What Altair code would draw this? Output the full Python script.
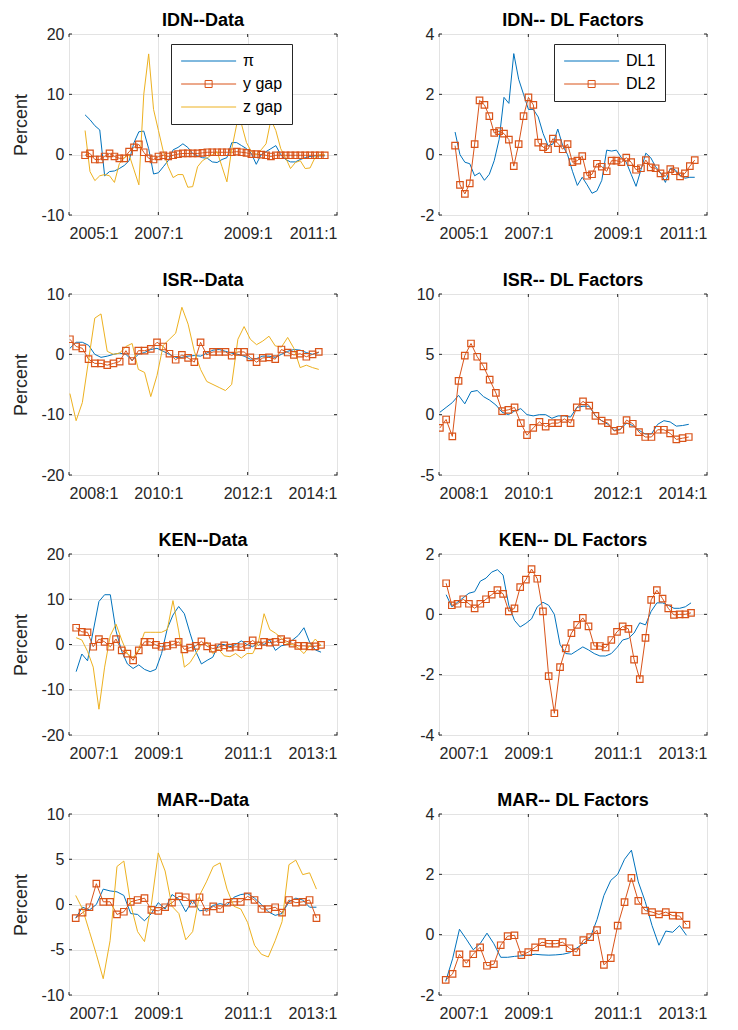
import altair as alt
import pandas as pd

BLUE, ORANGE, YELLOW = "#0072BD", "#D95319", "#EDB120"

# ---------------- IDN ----------------
idn_start, idn_step = 2005.36, 0.1095
idn_pi = [6.6, 5.8, 4.8, 4.1, -3.5, -2.8, -2.7, -2.3, -1.8, -1.0,
          2.0, 3.8, 3.9, 1.0, -3.2, -3.0, -2.0, -1.0, 0.8, 1.2,
          1.8, 1.2, 0.2, -0.2, -0.5, -0.6, -1.2, -1.3, -0.8, -0.5,
          2.0, 2.0, 1.5, 1.0, 0.2, -1.6, 0.0, 0.5, 1.0, 1.5,
          0.0, -0.8, -1.2, -1.2, -0.8, -0.5, -0.3, -0.2, -0.2, -0.2]
idn_ygap = [-0.1, 0.2, -0.8, -0.8, -0.3, 0.2, -0.3, -0.6, -0.6, 0.5,
            1.2, 1.7, 0.4, -0.6, -0.8, -0.3, -0.1, -0.3, -0.1, 0.1,
            0.2, 0.2, 0.2, 0.2, 0.3, 0.4, 0.4, 0.4, 0.4, 0.4,
            0.4, 0.5, 0.4, 0.3, 0.1, 0.1, 0.0, -0.1, -0.3, -0.1,
            -0.1, -0.1, -0.1, -0.1, -0.1, -0.1, -0.1, -0.1, -0.1, -0.1]
idn_zgap = [4.0, -2.8, -4.3, -3.5, -3.3, -3.5, -4.6, -1.5, -0.5, 0.0,
            -2.5, -5.0, 10.0, 16.7, 7.5, 4.0, 0.5, -2.0, -3.8, -3.3,
            -3.3, -5.4, -5.3, -2.0, -1.0, -0.5, 0.0, 0.5, -2.0, -4.5,
            1.0, 5.0, 5.0, 2.0, 0.5, 0.0, 0.8, 1.8, 5.8, 4.0,
            1.0, -0.5, -2.3, -1.3, -1.0, -2.3, -2.2, -0.5, 0.0, 0.0]
idn_dl1 = [0.75, 0.0, -0.25, -0.3, -0.7, -0.6, -0.85, -0.65, -0.2, 0.5,
           1.9, 1.7, 3.35, 2.5, 2.0, 1.5, 1.5, 1.25, 0.7, 0.3,
           0.35, 0.85, 0.3, 0.0, -0.55, -1.02, -0.75, -1.0, -1.28, -1.2,
           -0.85, 0.15, 0.12, 0.15, -0.1, -0.25, -0.65, -1.05, -0.5, 0.05,
           -0.1, -0.4, -0.6, -0.92, -0.45, -0.5, -0.68, -0.78, -0.75, -0.75]
idn_dl2 = [0.3, -1.0, -1.3, -0.95, 0.35, 1.8, 1.65, 1.28, 0.72, 0.78,
           0.7, 0.5, -0.38, 0.35, 1.28, 1.9, 1.65, 0.4, 0.25, 0.18,
           0.53, 0.38, 0.18, 0.35, -0.25, -0.2, -0.05, -0.7, -0.65, -0.3,
           -0.4, -0.55, -0.2, -0.2, -0.25, -0.1, -0.25, -0.5, -0.45, -0.18,
           -0.42, -0.45, -0.62, -0.72, -0.48, -0.55, -0.72, -0.62, -0.38, -0.18]

# ---------------- ISR ----------------
isr_start, isr_step = 2008.02, 0.1393
isr_pi = [1.0, 2.0, 2.0, 1.5, 0.0, -0.5, -0.3, 0.0, 0.2, 0.0,
          -1.0, 0.0, 0.3, 0.8, 1.0, 0.5, 0.0, -0.5, -0.5, -0.3,
          -0.2, -0.3, 0.2, 0.7, 0.8, 0.5, 0.2, 0.0, -0.3, -0.8,
          -0.7, -0.3, -0.3, -0.5, 0.0, 0.5, 0.8, 0.7, 0.3, 0.0, 0.3]
isr_ygap = [2.5, 1.3, 1.0, -0.8, -1.5, -1.5, -1.8, -1.5, -1.2, 0.6,
            -1.1, 0.6, 0.6, 0.9, 2.0, 1.3, 0.1, -0.9, -0.1, -0.6,
            -1.3, 2.0, -0.1, 0.4, 0.4, 0.4, -0.2, 0.4, 0.4, -0.5,
            -1.3, -0.6, -0.5, -0.8, 0.8, 0.3, -0.1, 0.1, -0.4, 0.0, 0.4]
isr_zgap = [-6.5, -11.0, -8.0, -1.0, 6.0, 6.7, 0.5, 0.0, 0.2, 1.3,
            1.8, -2.5, -3.0, -7.0, -3.5, 1.5, 2.5, 3.5, 7.8, 5.0,
            0.5, -2.5, -4.5, -5.0, -5.5, -6.0, -5.0, 2.5, 4.6, 2.5,
            1.6, 2.2, 3.0, 1.4, 1.2, 2.8, 1.0, -2.2, -1.8, -2.2, -2.5]
isr_dl1 = [0.2, 0.6, 1.0, 1.6, 0.9, 1.9, 2.0, 1.5, 1.2, 0.8,
           0.2, 0.0, 0.3, 0.5, 0.0, -0.1, 0.0, 0.0, -0.3, -0.1,
           -0.1, -0.2, 0.6, 0.7, 0.7, -0.1, -0.5, -0.8, -1.3, -1.2,
           -0.7, -0.9, -1.3, -1.6, -1.6, -0.8, -0.5, -0.6, -0.95, -0.9, -0.8]
isr_dl2 = [-1.1, -0.4, -1.8, 2.8, 4.9, 5.9, 4.8, 4.0, 2.9, 1.8,
           0.3, 0.4, 0.6, -0.7, -1.7, -1.1, -0.6, -1.0, -0.7, -0.7,
           -0.35, -0.7, 0.6, 1.1, 0.75, -0.1, -0.5, -0.7, -1.35, -1.25,
           -0.45, -0.75, -1.45, -1.85, -1.85, -1.25, -1.25, -1.55, -2.05, -1.95, -1.85]

# ---------------- KEN ----------------
ken_start, ken_step = 2007.16, 0.1275
ken_pi = [-6.0, -2.1, -3.6, 3.0, 9.5, 11.0, 11.0, 3.0, -1.5, -4.3,
          -5.3, -4.5, -5.5, -6.0, -5.5, -2.0, 3.5, 6.5, 8.4, 6.8,
          2.5, -1.5, -4.3, -3.5, -2.8, 0.0, 0.0, -0.5, 0.0, 0.8,
          0.0, -0.5, 0.5, 0.0, 1.0, -1.3, -0.3, 0.0, 1.0, 2.0,
          3.7, 0.5, -1.2, -1.7]
ken_ygap = [3.7, 2.8, 2.7, -0.5, 1.2, 0.6, -0.5, 1.2, -1.3, -2.0,
            -3.5, -1.3, 0.6, 0.6, -0.1, -0.5, -0.3, 0.0, 0.6, -1.1,
            -0.7, -0.3, 0.7, -0.4, -0.9, -0.6, -0.2, -0.7, -0.5, -0.6,
            -0.1, 0.9, -0.2, 0.6, 0.4, 0.6, 1.2, 0.7, 0.2, -0.3,
            -0.3, -0.4, -0.4, -0.1]
ken_zgap = [1.5, 1.0, -1.5, -5.0, -14.3, -5.0, 2.0, 4.5, 1.0, -2.0,
            -3.0, -1.0, 2.7, 2.7, 2.7, 2.7, 3.3, 9.7, 3.0, -5.0,
            -4.0, -2.0, 0.0, 0.5, -2.0, -1.0, -2.5, -2.7, -2.0, -3.0,
            -2.0, -2.0, 0.5, 6.8, 3.3, 2.5, 1.5, 0.2, 0.0, -0.8,
            -2.0, -0.3, 1.2, -0.3]
ken_dl1 = [0.65, 0.25, 0.4, 0.55, 0.7, 0.75, 1.1, 1.2, 1.4, 1.48,
           1.3, 0.3, -0.2, -0.42, -0.3, -0.15, 0.25, 0.4, 0.3, 0.0,
           -1.0, -1.3, -1.32, -1.2, -1.08, -1.18, -1.3, -1.38, -1.38, -1.3,
           -1.1, -0.85, -0.8, -0.62, -0.28, -0.35, 0.1, 0.38, 0.38, 0.3,
           0.2, 0.2, 0.25, 0.38]
ken_dl2 = [1.03, 0.3, 0.35, 0.5, 0.35, 0.2, 0.35, 0.5, 0.65, 0.8,
           0.68, 0.1, 0.2, 0.9, 1.15, 1.5, 1.18, 0.1, -2.05, -3.28,
           -1.75, -1.13, -0.62, -0.35, -0.12, -0.4, -1.05, -1.05, -1.1, -0.85,
           -0.58, -0.4, -0.48, -1.5, -2.15, -0.78, 0.48, 0.8, 0.52, 0.2,
           -0.02, 0.0, 0.0, 0.05]

# ---------------- MAR ----------------
mar_start, mar_step = 2007.15, 0.154
mar_pi = [-1.5, -0.3, -0.6, 0.0, 1.7, 1.5, 1.4, 1.0, -1.0, -1.1,
          -1.8, -1.0, 0.2, -0.5, 1.1, 0.6, -0.8, 0.5, -0.7, -0.6,
          -0.1, 0.1, -0.1, 0.8, 1.1, 1.2, 0.7, 0.0, -0.8, -1.2,
          -1.0, 0.3, 0.7, 0.5, -0.3, -0.3]
mar_ygap = [-1.5, -0.9, -0.3, 2.3, 0.3, 0.3, -1.1, -0.8, 0.3, 0.5,
            0.7, -0.6, -0.7, -0.3, 0.2, 0.9, 0.8, 0.1, 0.8, -0.8,
            -0.2, -0.5, 0.2, 0.3, 0.3, 0.9, 0.5, -0.5, -0.5, -0.3,
            -0.9, 0.5, 0.2, 0.3, 0.5, -1.5]
mar_zgap = [1.0, -0.5, -3.0, -5.5, -8.2, -4.0, 4.2, 4.8, 0.0, -3.0,
            -4.1, 0.0, 5.7, 3.7, -0.2, -1.0, -3.9, -3.0, 1.0, 2.5,
            4.2, 4.6, 1.7, -0.2, -0.5, -2.0, -4.5, -5.5, -5.8, -4.0,
            -1.9, 4.4, 4.9, 3.3, 3.5, 1.7]
mar_dl1 = [-1.55, -0.8, 0.18, -0.15, -0.5, -0.3, 0.05, -0.3, -0.75, -0.75,
           -0.72, -0.7, -0.68, -0.65, -0.67, -0.68, -0.67, -0.65, -0.6, -0.45,
           -0.3, -0.1, 0.5, 1.3, 1.8, 2.0, 2.5, 2.8, 1.75, 1.1,
           0.3, -0.35, 0.12, 0.08, 0.3, -0.02]
mar_dl2 = [-1.5, -1.3, -0.65, -0.95, -0.65, -0.42, -1.03, -0.98, -0.35, -0.05,
           -0.02, -0.68, -0.58, -0.42, -0.25, -0.3, -0.3, -0.25, -0.45, -0.58,
           -0.18, -0.08, 0.15, -1.0, -0.78, 0.3, 1.08, 1.88, 1.12, 0.8,
           0.75, 0.67, 0.75, 0.63, 0.62, 0.33]

data_names = ["π", "y gap", "z gap"]
dl_names = ["DL1", "DL2"]
data_colors = [BLUE, ORANGE, YELLOW]
dl_colors = [BLUE, ORANGE]

LINE_PATH = "M-1,0H7"
SQ_PATH = "M-1,0H7M2.49,-0.51H3.51V0.51H2.49Z"

W, H = 268, 181
TICK = 3
FONT = "Liberation Sans"
TXT = "#262626"


def panel(start, step, series, names, colors, ydom, yticks, x0, title,
          ytitle=None, legend_xy=None):
    rows = []
    for name, vals in zip(names, series):
        for i, v in enumerate(vals):
            rows.append({"t": start + i * step, "v": v, "s": name, "o": i})
    df = pd.DataFrame(rows)
    xticks = [x0, x0 + 2, x0 + 4, x0 + 6]
    base = alt.Chart(df)
    xaxis = alt.Axis(values=xticks,
                     labelExpr="datum.value + ':1'", title=None,
                     grid=True, gridColor="#e3e3e3", domain=False, ticks=False,
                     labelFontSize=16, labelColor=TXT, labelPadding=10,
                     labelFont=FONT)
    yaxis_kw = dict(values=yticks, grid=True, gridColor="#e3e3e3", domain=False,
                    ticks=False, labelFontSize=16, labelColor=TXT, labelPadding=5,
                    labelFont=FONT,
                    labelExpr="datum.value < 0 ? '-' + abs(datum.value) : '' + datum.value")
    if ytitle:
        yaxis = alt.Axis(title=ytitle, titleFontSize=18, titleFontWeight="normal",
                         titleColor=TXT, titleFont=FONT, titlePadding=10, **yaxis_kw)
    else:
        yaxis = alt.Axis(title=None, **yaxis_kw)
    xscale = alt.Scale(domain=[x0, x0 + 6], nice=False, zero=False)
    yscale = alt.Scale(domain=ydom, nice=False, zero=False)
    x = alt.X("t:Q", scale=xscale, axis=xaxis)
    y = alt.Y("v:Q", scale=yscale, axis=yaxis)
    cscale = alt.Scale(domain=names, range=colors)

    layers = []
    if legend_xy is not None:
        paths = [SQ_PATH if n == names[1] else LINE_PATH for n in names]
        leg = alt.Legend(orient="none", legendX=legend_xy[0], legendY=legend_xy[1],
                         title=None, strokeColor=TXT, fillColor="white", padding=9,
                         labelFontSize=16, labelFont=FONT, labelColor="black",
                         symbolSize=189, symbolStrokeWidth=1, labelOffset=47,
                         rowPadding=7, cornerRadius=0, symbolOpacity=1)
        legend_layer = base.transform_filter("false").mark_point(filled=False).encode(
            x=x, y=y,
            color=alt.Color("s:N", scale=cscale, legend=leg),
            shape=alt.Shape("s:N", scale=alt.Scale(domain=names, range=paths), legend=leg))
        layers.append(legend_layer)
    lines = base.mark_line(strokeWidth=1, clip=True).encode(
        x=x, y=y, color=alt.Color("s:N", scale=cscale, legend=None), order="o:Q")
    squares = base.transform_filter(alt.datum.s == names[1]).mark_point(
        shape="square", filled=False, size=42, strokeWidth=1.2, color=ORANGE,
        opacity=1, clip=True).encode(x=x, y=y)
    layers += [lines, squares]

    # inward tick marks on all four sides (MATLAB box style)
    xt = alt.Chart(pd.DataFrame({"xt": xticks}))
    yt = alt.Chart(pd.DataFrame({"yt": yticks}))
    xenc = alt.X("xt:Q", scale=xscale, axis=xaxis)
    yenc = alt.Y("yt:Q", scale=yscale, axis=yaxis)
    layers += [
        xt.mark_rule(color=TXT, strokeWidth=1).encode(x=xenc, y=alt.value(H), y2=alt.value(H - TICK)),
        xt.mark_rule(color=TXT, strokeWidth=1).encode(x=xenc, y=alt.value(0), y2=alt.value(TICK)),
        yt.mark_rule(color=TXT, strokeWidth=1).encode(y=yenc, x=alt.value(0), x2=alt.value(TICK)),
        yt.mark_rule(color=TXT, strokeWidth=1).encode(y=yenc, x=alt.value(W), x2=alt.value(W - TICK)),
    ]
    return alt.layer(*layers).properties(
        width=W, height=H,
        title=alt.TitleParams(title, fontSize=18, fontWeight="bold", color="black",
                              font=FONT, anchor="middle", offset=-4))


p = [
    panel(idn_start, idn_step, [idn_pi, idn_ygap, idn_zgap], data_names, data_colors,
          [-10, 20], [-10, 0, 10, 20], 2005, "IDN--Data", "Percent", (102, 10)),
    panel(idn_start, idn_step, [idn_dl1, idn_dl2], dl_names, dl_colors,
          [-2, 4], [-2, 0, 2, 4], 2005, "IDN-- DL Factors", None, (115, 10)),
    panel(isr_start, isr_step, [isr_pi, isr_ygap, isr_zgap], data_names, data_colors,
          [-20, 10], [-20, -10, 0, 10], 2008, "ISR--Data", "Percent"),
    panel(isr_start, isr_step, [isr_dl1, isr_dl2], dl_names, dl_colors,
          [-5, 10], [-5, 0, 5, 10], 2008, "ISR-- DL Factors"),
    panel(ken_start, ken_step, [ken_pi, ken_ygap, ken_zgap], data_names, data_colors,
          [-20, 20], [-20, -10, 0, 10, 20], 2007, "KEN--Data", "Percent"),
    panel(ken_start, ken_step, [ken_dl1, ken_dl2], dl_names, dl_colors,
          [-4, 2], [-4, -2, 0, 2], 2007, "KEN-- DL Factors"),
    panel(mar_start, mar_step, [mar_pi, mar_ygap, mar_zgap], data_names, data_colors,
          [-10, 10], [-10, -5, 0, 5, 10], 2007, "MAR--Data", "Percent"),
    panel(mar_start, mar_step, [mar_dl1, mar_dl2], dl_names, dl_colors,
          [-2, 4], [-2, 0, 2, 4], 2007, "MAR-- DL Factors"),
]

chart = alt.concat(*p, columns=2, spacing={"row": 79, "column": 102}, bounds="flush").resolve_scale(
    x="independent", y="independent", color="independent", shape="independent"
).properties(padding={"left": 4, "top": 3, "right": 5, "bottom": 5}
).configure(font=FONT).configure_view(stroke=TXT, strokeWidth=1)

chart.save("out.html", embed_options={"renderer": "svg", "actions": False})
